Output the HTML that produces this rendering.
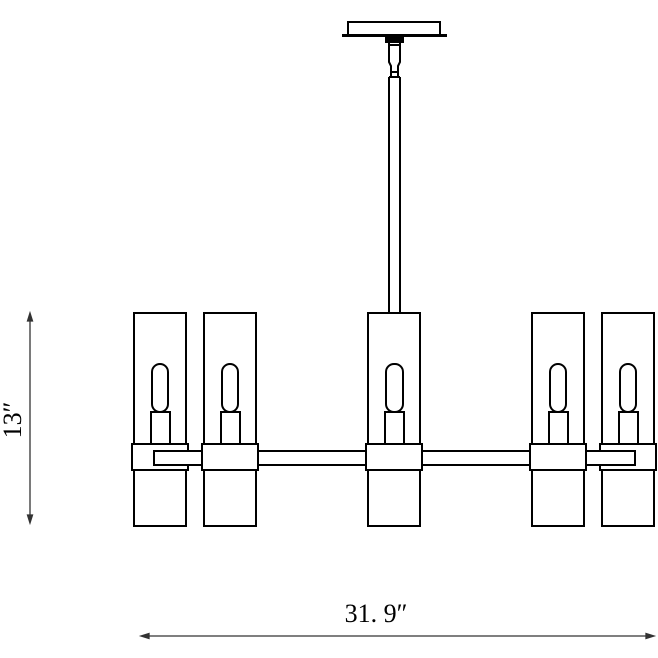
<!DOCTYPE html>
<html><head><style>body{margin:0;background:#fff}svg{display:block}</style></head><body>
<svg width="658" height="658" viewBox="0 0 658 658" xmlns="http://www.w3.org/2000/svg">
<g fill="#fff" stroke="#000" stroke-width="2">
<rect x="348" y="22" width="92" height="13"/>
<line x1="342" y1="35.5" x2="447" y2="35.5" stroke-width="3"/>
<rect x="386" y="36" width="17" height="6" fill="#000"/>
<path d="M389 42 L400 42 L400 62 L398 66 L398 72 L391 72 L391 66 L389 62 Z"/>
<line x1="388" y1="45" x2="401" y2="45"/>
<line x1="391" y1="72" x2="391" y2="77"/><line x1="398" y1="72" x2="398" y2="77"/>
<line x1="389" y1="77" x2="400" y2="77"/>
<line x1="389" y1="77" x2="389" y2="313"/><line x1="400" y1="77" x2="400" y2="313"/>
<rect x="134" y="313" width="52" height="213"/>
<rect x="204" y="313" width="52" height="213"/>
<rect x="368" y="313" width="52" height="213"/>
<rect x="532" y="313" width="52" height="213"/>
<rect x="602" y="313" width="52" height="213"/>
<g>
<rect x="152" y="364" width="16" height="48" rx="8"/><rect x="151" y="412" width="19" height="32"/>
<rect x="222" y="364" width="16" height="48" rx="8"/><rect x="221" y="412" width="19" height="32"/>
<rect x="386" y="364" width="17" height="48" rx="8"/><rect x="385" y="412" width="19" height="32"/>
<rect x="550" y="364" width="16" height="48" rx="8"/><rect x="549" y="412" width="19" height="32"/>
<rect x="620" y="364" width="16" height="48" rx="8"/><rect x="619" y="412" width="19" height="32"/>
</g>
<rect x="132" y="444" width="56" height="26"/>
<rect x="600" y="444" width="56" height="26"/>
<rect x="154" y="451" width="481" height="14"/>
<rect x="202" y="444" width="56" height="26"/>
<rect x="366" y="444" width="56" height="26"/>
<rect x="530" y="444" width="56" height="26"/>
</g>
<g stroke="#333" stroke-width="1.3" fill="#333">
<line x1="30" y1="316" x2="30" y2="520"/>
<path d="M30 313 L27.5 321 L32.5 321 Z"/><path d="M30 523 L27.5 515 L32.5 515 Z"/>
<line x1="145" y1="636" x2="650" y2="636"/>
<path d="M141 636 L149 633.5 L149 638.5 Z"/><path d="M654 636 L646 633.5 L646 638.5 Z"/>
</g>
<text x="376" y="622" text-anchor="middle" font-family="Liberation Serif, serif" font-size="26" fill="#000">31. 9″</text>
<text transform="translate(21,420) rotate(-90)" text-anchor="middle" font-family="Liberation Serif, serif" font-size="26" fill="#000">13″</text>
</svg>
</body></html>
